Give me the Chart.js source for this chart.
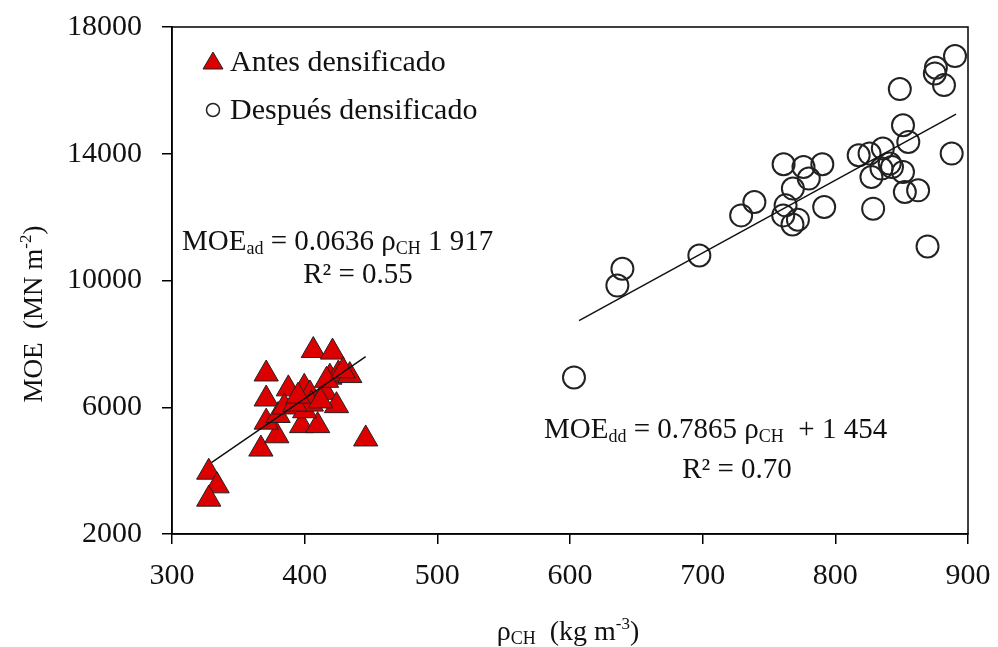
<!DOCTYPE html>
<html>
<head>
<meta charset="utf-8">
<script src="https://cdn.jsdelivr.net/npm/chart.js@4.4.1/dist/chart.umd.min.js"></script>
<style>
  html, body { margin: 0; padding: 0; background: #fff; }
  #wrap { width: 998px; height: 647px; position: relative; }
</style>
</head>
<body>
<div id="wrap"><canvas id="c"></canvas></div>
<script>
// ---- data ----
const antesX = [327.7, 334, 327.7, 367, 379, 371, 371, 371, 380, 387.7, 384.6, 406.5, 421, 399.7, 404, 397.7, 409.8, 400, 405, 392.7, 415.4, 424, 419, 425.4, 434, 446, 416.5, 429, 395, 412];
const antesY = [3950, 3520, 3100, 4680, 5100, 5530, 6260, 7050, 5740, 6580, 6010, 7790, 7740, 6630, 6420, 5420, 5420, 5890, 6100, 6100, 6470, 6050, 6950, 7050, 7000, 5000, 6850, 7150, 6350, 6200];
const despuesX = [890.2, 875.8, 875, 881.9, 848.6, 851, 855, 887.7, 817.6, 825.8, 835.8, 841, 834.8, 851, 827.2, 852.4, 862.4, 828.5, 761, 776, 790.2, 780, 768, 739, 762.5, 791.6, 729, 767.7, 760.7, 771.8, 869.5, 697.5, 639.5, 635.7, 603, 842.7];
const despuesY = [17083, 16713, 16536, 16166, 16040, 14900, 14373, 14006, 13953, 14006, 14164, 13690, 13532, 13425, 13267, 12792, 12846, 12267, 13668, 13583, 13668, 13216, 12900, 12476, 12371, 12318, 12055, 11770, 12055, 11920, 11076, 10790, 10370, 9840, 6942, 13580];
const fitAntesX = [329.7, 446];
const fitAntesY = [4254, 7597];
const fitDespuesX = [606.8, 891];
const fitDespuesY = [8735, 15249];
const xTicks = [300, 400, 500, 600, 700, 800, 900];
const yTicks = [2000, 6000, 10000, 14000, 18000];
const legendLabels = ['Antes densificado', 'Después densificado'];

const pts = (xs, ys) => xs.map((x, i) => ({x: x, y: ys[i]}));
const SERIF = '"Liberation Serif", "Times New Roman", serif';

function richWidth(ctx, parts) {
  let w = 0;
  for (const p of parts) { ctx.font = p.size + 'px ' + SERIF; w += ctx.measureText(p.t).width; }
  return w;
}
function drawRich(ctx, parts, x, y, align) {
  let w = richWidth(ctx, parts);
  let cx = align === 'center' ? x - w / 2 : x;
  ctx.textBaseline = 'alphabetic';
  ctx.textAlign = 'left';
  for (const p of parts) {
    ctx.font = p.size + 'px ' + SERIF;
    ctx.fillText(p.t, cx, y + (p.dy || 0));
    cx += ctx.measureText(p.t).width;
  }
}

const decor = {
  id: 'decor',
  afterDraw(chart) {
    const ctx = chart.ctx, a = chart.chartArea;
    ctx.save();
    ctx.strokeStyle = '#000';
    ctx.lineWidth = 1.5;
    ctx.strokeRect(a.left, a.top, a.right - a.left, a.bottom - a.top);
    // legend
    const lx = a.left + 41, ly1 = a.top + 35, ly2 = a.top + 83;
    ctx.beginPath();
    ctx.moveTo(lx, ly1 - 10); ctx.lineTo(lx + 10, ly1 + 7); ctx.lineTo(lx - 10, ly1 + 7); ctx.closePath();
    ctx.fillStyle = '#dd0000'; ctx.fill(); ctx.lineWidth = 1; ctx.strokeStyle = '#222'; ctx.stroke();
    ctx.beginPath(); ctx.arc(lx, ly2, 6.5, 0, Math.PI * 2); ctx.lineWidth = 1.5; ctx.stroke();
    ctx.fillStyle = '#111';
    ctx.font = '30px ' + SERIF; ctx.textBaseline = 'middle'; ctx.textAlign = 'left';
    ctx.fillText(legendLabels[0], lx + 17, ly1 + 1);
    ctx.fillText(legendLabels[1], lx + 17, ly2 + 1);
    // equations
    drawRich(ctx, [{t:'MOE', size:29}, {t:'ad', size:18, dy:4}, {t:' = 0.0636 ρ', size:29}, {t:'CH', size:18, dy:4}, {t:' 1 917', size:29}], a.left + 10, a.top + 223, 'left');
    drawRich(ctx, [{t:'R² = 0.55', size:29}], a.left + 186, a.top + 256, 'center');
    drawRich(ctx, [{t:'MOE', size:29}, {t:'dd', size:18, dy:4}, {t:' = 0.7865 ρ', size:29}, {t:'CH', size:18, dy:4}, {t:'  + 1 454', size:29}], a.left + 372, a.top + 411, 'left');
    drawRich(ctx, [{t:'R² = 0.70', size:29}], a.left + 565, a.top + 451, 'center');
    // x title
    drawRich(ctx, [{t:'ρ', size:28}, {t:'CH', size:18, dy:4}, {t:'  (kg m', size:28}, {t:'-3', size:17, dy:-11}, {t:')', size:28}], (a.left + a.right) / 2 - 2, 640, 'center');
    // y title
    ctx.translate(42, 314);
    ctx.rotate(-Math.PI / 2);
    drawRich(ctx, [{t:'MOE  (MN m', size:27}, {t:'-2', size:17, dy:-11}, {t:')', size:27}], 0, 0, 'center');
    ctx.restore();
  }
};

new Chart(document.getElementById('c'), {
  type: 'scatter',
  data: {
    datasets: [
      { label: 'fitA', data: pts(fitAntesX, fitAntesY), showLine: true, pointRadius: 0, borderColor: '#111', borderWidth: 1.5, order: 0 },
      { label: 'fitD', data: pts(fitDespuesX, fitDespuesY), showLine: true, pointRadius: 0, borderColor: '#111', borderWidth: 1.5, order: 0 },
      { label: legendLabels[0], data: pts(antesX, antesY), pointStyle: 'triangle', pointRadius: 14, pointBackgroundColor: '#dd0000', pointBorderColor: '#222', pointBorderWidth: 1, order: 2 },
      { label: legendLabels[1], data: pts(despuesX, despuesY), pointStyle: 'circle', pointRadius: 11, pointBackgroundColor: 'rgba(0,0,0,0)', pointBorderColor: '#222', pointBorderWidth: 2, order: 1 }
    ]
  },
  options: {
    responsive: true,
    maintainAspectRatio: false,
    animation: false,
    devicePixelRatio: 1,
    layout: { padding: { top: 27, right: 30, left: 0, bottom: 0 } },
    plugins: { legend: { display: false }, tooltip: { enabled: false } },
    scales: {
      x: {
        type: 'linear', min: 300, max: 900,
        afterBuildTicks: s => { s.ticks = xTicks.map(v => ({value: v})); },
        afterFit: s => { s.height = 113; s.paddingLeft = 0; s.paddingRight = 0; },
        grid: { drawOnChartArea: false, drawTicks: true, tickLength: 10, color: '#000', lineWidth: 1.5 },
        border: { display: true, color: '#000', width: 1.5 },
        ticks: { color: '#111', padding: 14, font: { family: SERIF, size: 30 }, callback: v => String(v) }
      },
      y: {
        type: 'linear', min: 2000, max: 18000,
        afterBuildTicks: s => { s.ticks = yTicks.map(v => ({value: v})); },
        afterFit: s => { s.width = 172; s.paddingTop = 0; s.paddingBottom = 0; },
        grid: { drawOnChartArea: false, drawTicks: true, tickLength: 10, color: '#000', lineWidth: 1.5 },
        border: { display: true, color: '#000', width: 1.5 },
        ticks: { color: '#111', padding: 20, font: { family: SERIF, size: 30 }, callback: v => String(v) }
      }
    }
  },
  plugins: [decor]
});
</script>
</body>
</html>
